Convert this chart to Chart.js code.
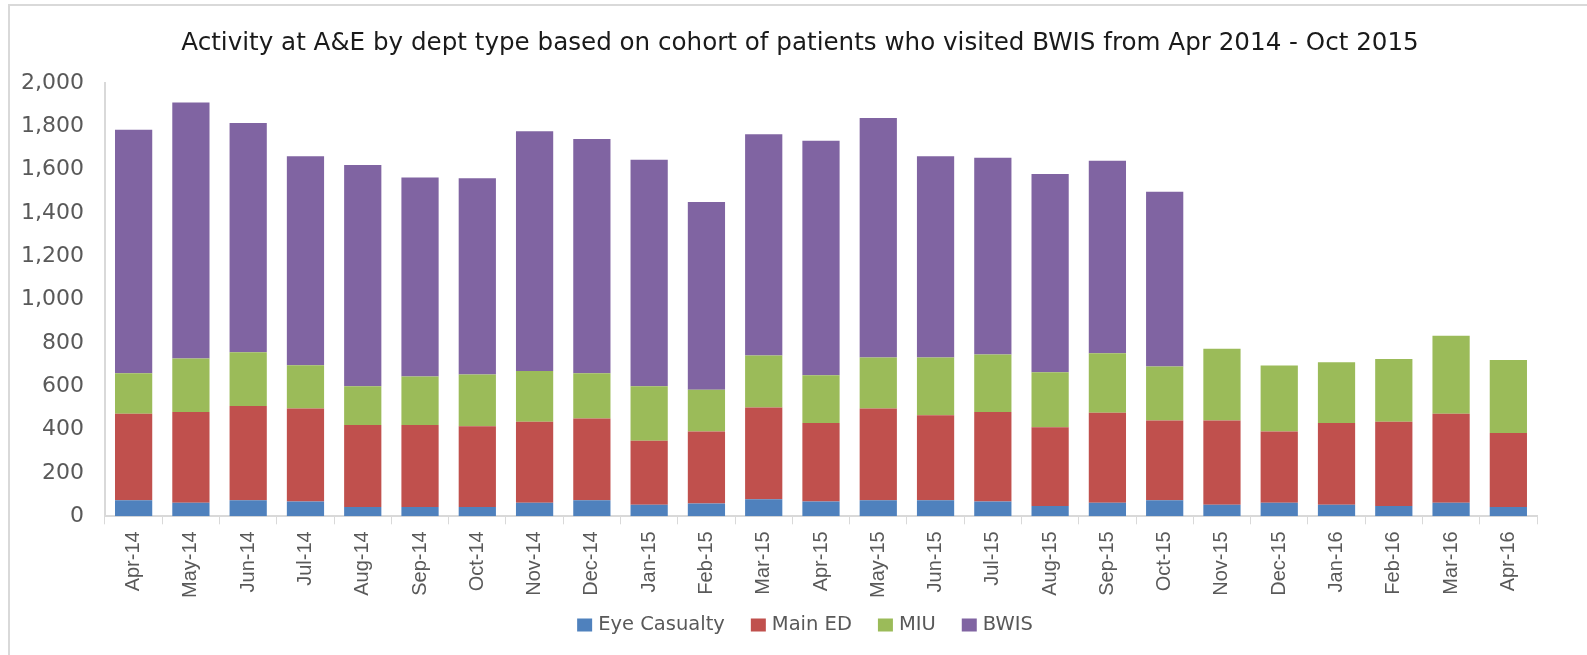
<!DOCTYPE html>
<html>
<head>
<meta charset="utf-8">
<script src="https://cdn.jsdelivr.net/npm/chart.js@4"></script>
<style>
  body { margin: 0; background: #fff; }
  #wrap { position: relative; width: 1587px; height: 655px; }
  #topLine { position: absolute; left: 8px; top: 4px; width: 1579px; height: 2px; background: #d9d9d9; }
  #leftLine { position: absolute; left: 8px; top: 4px; width: 2px; height: 651px; background: #d9d9d9; }
</style>
</head>
<body>
<div id="wrap">
  <canvas id="aeChart" width="1587" height="655"></canvas>
  <div id="topLine"></div>
  <div id="leftLine"></div>
</div>
<script>
// Months on the x axis
const months = ['Apr-14', 'May-14', 'Jun-14', 'Jul-14', 'Aug-14', 'Sep-14', 'Oct-14', 'Nov-14', 'Dec-14',
  'Jan-15', 'Feb-15', 'Mar-15', 'Apr-15', 'May-15', 'Jun-15', 'Jul-15', 'Aug-15', 'Sep-15', 'Oct-15',
  'Nov-15', 'Dec-15', 'Jan-16', 'Feb-16', 'Mar-16', 'Apr-16'];

// Attendances by department type
const eyeCasualty = [74, 63, 74, 68, 43, 43, 43, 63, 74, 53, 59, 79, 68, 74, 74, 68, 48, 63, 74, 53, 63, 53, 48, 63, 43];
const mainED = [399, 419, 435, 430, 379, 379, 373, 373, 377, 296, 332, 423, 363, 424, 393, 414, 363, 415, 368, 389, 328, 378, 388, 410, 342];
const miu = [187, 246, 248, 199, 178, 223, 239, 235, 209, 251, 193, 240, 220, 235, 266, 265, 254, 275, 249, 331, 305, 280, 290, 360, 337];
const bwis = [1124, 1182, 1058, 965, 1021, 919, 905, 1106, 1082, 1046, 867, 1022, 1082, 1106, 929, 908, 915, 888, 807, null, null, null, null, null, null];

const yMax = 2000;
const yStep = 200;

const chartTitle = 'Activity at A&E by dept type based on cohort of patients who visited BWIS from Apr 2014 - Oct 2015';
const textColor = '#595959';
const axisColor = '#d9d9d9';

// title and legend in the original sit a bit off the plot centre, so draw them ourselves
const titleLegendPlugin = {
  id: 'titleLegend',
  afterDraw(chart) {
    const c = chart.ctx;
    c.save();
    c.font = '24.6px "DejaVu Sans"';
    c.fillStyle = '#1a1a1a';
    c.textAlign = 'center';
    c.textBaseline = 'middle';
    c.fillText(chartTitle, 800, 44);

    // legend row along the bottom
    c.font = '19.5px "DejaVu Sans"';
    c.textAlign = 'left';
    const boxW = 15, boxH = 13, gap = 6, spacing = 26, midY = 625;
    const sets = chart.data.datasets;
    let total = 0;
    sets.forEach((ds, i) => {
      total += boxW + gap + c.measureText(ds.label).width + (i < sets.length - 1 ? spacing : 0);
    });
    let x = 805 - total / 2;
    sets.forEach((ds) => {
      c.fillStyle = ds.backgroundColor;
      c.fillRect(x, midY - boxH / 2, boxW, boxH);
      x += boxW + gap;
      c.fillStyle = textColor;
      c.fillText(ds.label, x, midY);
      x += c.measureText(ds.label).width + spacing;
    });
    c.restore();
  }
};

const ctx = document.getElementById('aeChart').getContext('2d');
const aeChart = new Chart(ctx, {
  type: 'bar',
  data: {
    labels: months,
    datasets: [
      { label: 'Eye Casualty', data: eyeCasualty, backgroundColor: '#4F81BD' },
      { label: 'Main ED', data: mainED, backgroundColor: '#C0504D' },
      { label: 'MIU', data: miu, backgroundColor: '#9BBB59' },
      { label: 'BWIS', data: bwis, backgroundColor: '#8064A2' }
    ]
  },
  plugins: [titleLegendPlugin],
  options: {
    responsive: false,
    animation: false,
    layout: { padding: { left: 8, right: 50, top: 83, bottom: 50 } },
    datasets: {
      bar: { categoryPercentage: 0.65, barPercentage: 1.0, borderWidth: 0 }
    },
    plugins: {
      title: { display: false },
      legend: { display: false },
      tooltip: { enabled: false }
    },
    scales: {
      x: {
        stacked: true,
        grid: { drawOnChartArea: false, color: axisColor, tickLength: 8, offset: true },
        border: { color: axisColor, width: 2 },
        ticks: {
          color: textColor,
          font: { family: 'Liberation Sans', size: 20 },
          minRotation: 90,
          maxRotation: 90,
          autoSkip: false,
          padding: 7
        }
      },
      y: {
        stacked: true,
        min: 0,
        max: yMax,
        grid: { display: false },
        border: { display: true, color: axisColor, width: 2 },
        ticks: {
          stepSize: yStep,
          color: textColor,
          font: { family: 'DejaVu Sans', size: 22 },
          padding: 13,
          callback: (v) => v.toLocaleString('en-GB')
        }
      }
    }
  }
});
</script>
</body>
</html>
